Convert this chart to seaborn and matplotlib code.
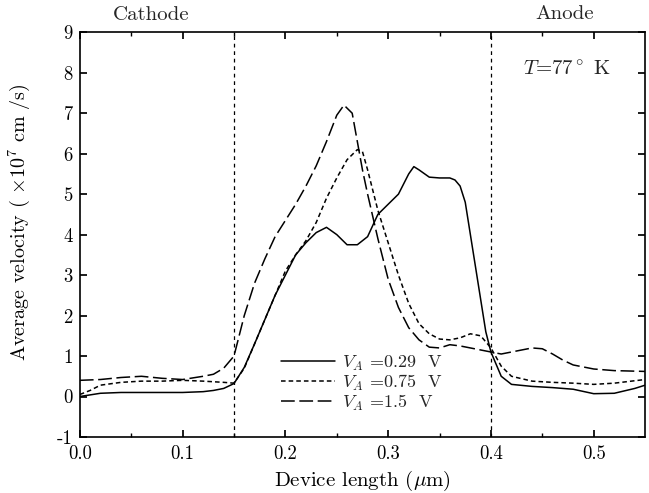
import numpy as np
import pandas as pd
import matplotlib
matplotlib.use("Agg")
import matplotlib.pyplot as plt
import seaborn as sns

# ---- data ----
x_029 = [0.0, 0.02, 0.04, 0.06, 0.08, 0.10, 0.12, 0.13, 0.14, 0.15, 0.16, 0.17, 0.18, 0.19, 0.20,
         0.21, 0.22, 0.23, 0.24, 0.25, 0.26, 0.27, 0.28, 0.29, 0.30, 0.31, 0.32, 0.325, 0.33, 0.34,
         0.35, 0.36, 0.365, 0.37, 0.375, 0.38, 0.385, 0.39, 0.395, 0.40, 0.41, 0.42, 0.44, 0.46,
         0.48, 0.50, 0.52, 0.54, 0.55]
y_029 = [0.0, 0.08, 0.1, 0.1, 0.1, 0.1, 0.12, 0.15, 0.2, 0.32, 0.72, 1.3, 1.9, 2.5, 3.0,
         3.5, 3.8, 4.05, 4.18, 4.0, 3.75, 3.75, 3.95, 4.5, 4.75, 5.0, 5.5, 5.68, 5.6, 5.42,
         5.4, 5.4, 5.35, 5.2, 4.8, 4.0, 3.2, 2.4, 1.6, 1.1, 0.5, 0.3, 0.25, 0.22,
         0.18, 0.07, 0.08, 0.2, 0.28]

x_075 = [0.0, 0.01, 0.02, 0.04, 0.06, 0.08, 0.10, 0.12, 0.14, 0.15, 0.16, 0.17, 0.18, 0.19, 0.20,
         0.21, 0.22, 0.23, 0.24, 0.25, 0.26, 0.27, 0.275, 0.28, 0.285, 0.29, 0.30, 0.31, 0.32,
         0.33, 0.34, 0.35, 0.36, 0.37, 0.38, 0.39, 0.40, 0.41, 0.42, 0.44, 0.46, 0.48, 0.50,
         0.52, 0.55]
y_075 = [0.05, 0.15, 0.28, 0.35, 0.38, 0.38, 0.4, 0.38, 0.35, 0.33, 0.7, 1.3, 1.9, 2.5, 3.1,
         3.5, 3.85, 4.3, 4.9, 5.4, 5.85, 6.1, 6.05, 5.6, 5.1, 4.6, 3.8, 3.0, 2.3,
         1.8, 1.55, 1.42, 1.4, 1.45, 1.55, 1.5, 1.2, 0.75, 0.5, 0.38, 0.35, 0.33, 0.3,
         0.33, 0.42]

x_15 = [0.0, 0.02, 0.04, 0.06, 0.08, 0.10, 0.12, 0.13, 0.14, 0.15, 0.16, 0.17, 0.18, 0.19, 0.20,
        0.21, 0.22, 0.23, 0.24, 0.25, 0.257, 0.265, 0.27, 0.275, 0.28, 0.29, 0.30, 0.31, 0.32,
        0.33, 0.34, 0.35, 0.36, 0.37, 0.38, 0.39, 0.40, 0.41, 0.42, 0.43, 0.44, 0.45, 0.46,
        0.47, 0.48, 0.50, 0.52, 0.55]
y_15 = [0.4, 0.42, 0.47, 0.5, 0.45, 0.42, 0.5, 0.55, 0.7, 1.0, 2.0, 2.8, 3.4, 3.95, 4.35,
        4.75, 5.2, 5.7, 6.3, 6.95, 7.2, 7.0, 6.3, 5.6, 5.0, 3.9, 2.9, 2.2, 1.7,
        1.4, 1.22, 1.2, 1.28, 1.25, 1.2, 1.15, 1.1, 1.05, 1.1, 1.15, 1.2, 1.18, 1.05,
        0.9, 0.78, 0.68, 0.64, 0.62]

series_labels = [r"$V_A$ =0.29  V", r"$V_A$ =0.75  V", r"$V_A$ =1.5  V"]
boundaries = [0.15, 0.40]
x_ticks = [0.0, 0.1, 0.2, 0.3, 0.4, 0.5]
y_ticks = list(range(-1, 10))

sns.set_theme(style="ticks")
plt.rcParams["font.family"] = ["cmr10", "DejaVu Serif"]
plt.rcParams["mathtext.fontset"] = "cm"
plt.rcParams["axes.unicode_minus"] = False
plt.rcParams["axes.formatter.use_mathtext"] = True

fig = plt.figure(figsize=(6.49, 4.93), dpi=100)
ax = fig.add_axes([0.123, 0.1136, 0.871, 0.821])

styles = ["-", (0, (3, 2)), (0, (9, 3))]
for xs, ys, lab, ls in zip([x_029, x_075, x_15], [y_029, y_075, y_15], series_labels, styles):
    df = pd.DataFrame({"x": xs, "y": ys})
    sns.lineplot(data=df, x="x", y="y", ax=ax, color="black", lw=1.1,
                 linestyle=ls, label=lab, sort=False)

for b in boundaries:
    ax.axvline(b, color="black", lw=0.9, linestyle=(0, (3, 3)))

ax.set_xlim(0, 0.55)
ax.set_ylim(-1, 9)
ax.set_xticks(x_ticks)
ax.set_xticklabels([f"{v:.1f}" for v in x_ticks])
ax.set_xticks(np.arange(0.05, 0.55, 0.1), minor=True)
ax.set_yticks(y_ticks)
ax.set_yticklabels([str(v) for v in y_ticks])
ax.tick_params(axis="both", which="both", direction="in", top=True, right=True,
               labelsize=13.5, colors="black")
ax.tick_params(which="major", length=5)
ax.tick_params(which="minor", length=3)
ax.tick_params(axis="y", pad=5)
ax.tick_params(axis="x", pad=6)
for s in ax.spines.values():
    s.set_color("black")
    s.set_linewidth(1.2)

ax.set_xlabel(r"Device length ($\mu$m)", fontsize=15, color="black", labelpad=4)
ax.set_ylabel(r"Average velocity ( $\times10^7$ cm /s)", fontsize=14.5, color="black")
ax.yaxis.set_label_coords(-0.085, 0.53)

ax.text(0.069, 9.42, "Cathode", fontsize=15, ha="center", va="center")
ax.text(0.472, 9.45, "Anode", fontsize=15, ha="center", va="center")
ax.text(0.474, 8.06, r"$T$=77$^\circ$ K", fontsize=15, ha="center", va="center")

leg = ax.legend(loc="center left", bbox_to_anchor=(0.34, 0.133), frameon=False, fontsize=13,
                handlelength=3.0, handletextpad=0.4, labelspacing=0.0, borderpad=0.0)

fig.savefig("out.png", dpi=100)
